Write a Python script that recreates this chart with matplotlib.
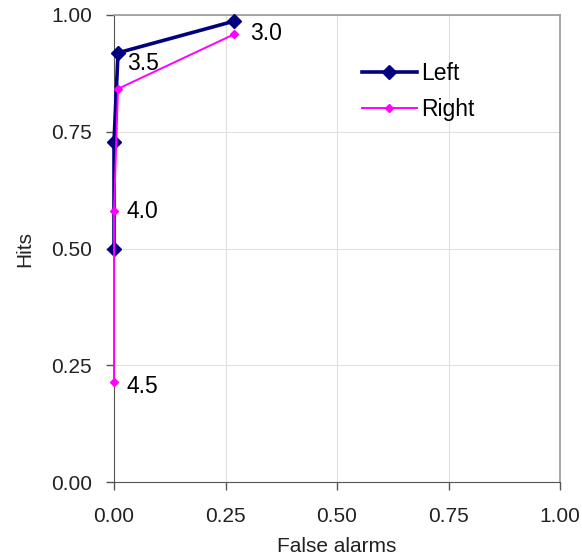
import matplotlib
matplotlib.use('Agg')
import matplotlib.pyplot as plt

plt.rcParams['font.family'] = ['Liberation Sans', 'DejaVu Sans']

left_fa = [0.27, 0.009, 0.0, 0.0]
left_hits = [0.987, 0.919, 0.728, 0.50]
right_fa = [0.27, 0.009, 0.0, 0.0]
right_hits = [0.959, 0.842, 0.58, 0.214]
criteria = ['3.0', '3.5', '4.0', '4.5']
ticks = [0.0, 0.25, 0.5, 0.75, 1.0]

fig = plt.figure(figsize=(5.82, 5.59), dpi=100)
ax = fig.add_axes([0.1959, 0.1377, 0.7663, 0.8355])

ax.plot(left_fa, left_hits, color='#000080', lw=2.6, marker='D', ms=7.5,
        label='Left', zorder=3, clip_on=False)
ax.plot(right_fa, right_hits, color='#ff00ff', lw=1.4, marker='D', ms=4.5,
        label='Right', zorder=4, clip_on=False)

# criterion labels
ax.annotate(criteria[0], (right_fa[0], right_hits[0]), xytext=(11.5, 0.5),
            textcoords='offset points', fontsize=16.5, va='center')
ax.annotate(criteria[1], (left_fa[1], left_hits[1]), xytext=(6.5, -7.5),
            textcoords='offset points', fontsize=16.5, va='center')
ax.annotate(criteria[2], (right_fa[2], right_hits[2]), xytext=(9, -0.5),
            textcoords='offset points', fontsize=16.5, va='center')
ax.annotate(criteria[3], (right_fa[3], right_hits[3]), xytext=(9, -3.5),
            textcoords='offset points', fontsize=16.5, va='center')

ax.set_xlim(0, 1)
ax.set_ylim(0, 1)
ax.set_xticks(ticks)
ax.set_yticks(ticks)
ax.set_xticklabels(['%.2f' % t for t in ticks])
ax.set_yticklabels(['%.2f' % t for t in ticks])
ax.tick_params(direction='out', length=6, width=1, color='#555555',
               labelsize=15, labelcolor='#222222')
ax.tick_params(axis='x', pad=12)
ax.tick_params(axis='y', pad=10)
ax.grid(True, color='#e0e0e0', lw=0.8)
ax.set_axisbelow(True)
for s in ['left', 'bottom']:
    ax.spines[s].set_color('#555555')
for s in ['top', 'right']:
    ax.spines[s].set_color('#999999')
    ax.spines[s].set_linewidth(1.2)

ax.set_xlabel('False alarms', fontsize=15, labelpad=8, color='#222222')
ax.set_ylabel('Hits', fontsize=15, labelpad=12, color='#222222')

ax.legend(loc='upper left', bbox_to_anchor=(0.535, 0.918), frameon=False,
          fontsize=16.5, handlelength=2.4, handletextpad=0.2,
          labelspacing=0.55, borderaxespad=0)

fig.savefig('out.png', dpi=100)
